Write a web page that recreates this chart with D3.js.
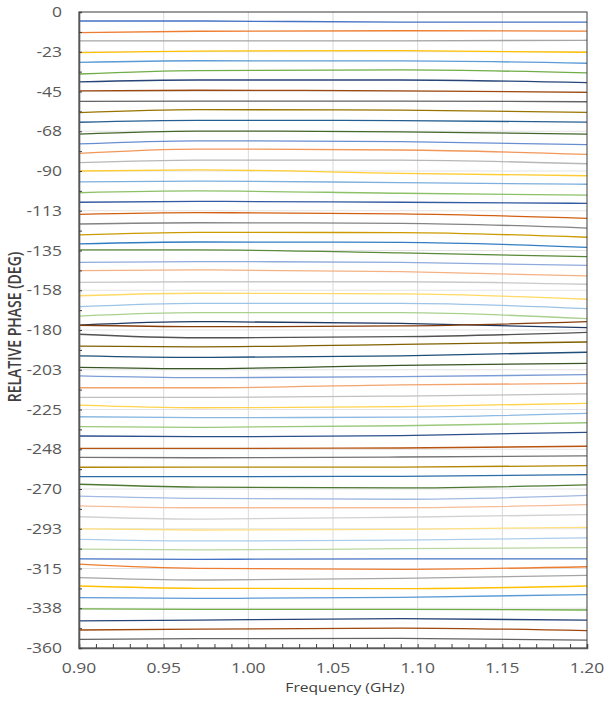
<!DOCTYPE html>
<html>
<head>
<meta charset="utf-8">
<script src="https://cdn.jsdelivr.net/npm/d3@7/dist/d3.min.js"></script>
<style>
  html, body { margin: 0; padding: 0; background: #fff; }
  svg { display: block; }
  text { font-family: "Open Sans", "DejaVu Sans", sans-serif; }
</style>
</head>
<body>
<svg id="chart" width="605" height="702"></svg>
<script>
// ---------------- DATA ----------------
const freqGHz = [0.90, 0.97, 1.09, 1.20];

// relative phase (deg) of each of the 63 states, read at each frequency of freqGHz
const phaseAt090 = [-5.1,-11.7,-16.4,-23.0,-28.5,-35.1,-39.6,-44.6,-50.6,-57.0,-62.4,-69.1,-74.7,-80.0,-85.3,-90.0,-96.2,-102.3,-107.7,-114.5,-120.0,-126.2,-131.3,-134.7,-141.7,-146.4,-153.0,-160.6,-166.8,-172.1,-177.2,-177.3,-182.4,-189.1,-194.6,-201.1,-206.0,-212.7,-218.1,-222.5,-229.1,-234.7,-240.0,-247.0,-252.1,-257.7,-263.0,-267.3,-274.0,-279.5,-285.7,-292.6,-298.5,-304.0,-309.5,-312.5,-320.2,-324.9,-331.5,-337.9,-344.7,-349.8,-355.1];
const phaseAt097 = [-5.1,-10.9,-16.3,-22.1,-27.6,-33.2,-38.5,-44.3,-50.4,-55.3,-61.3,-67.4,-72.9,-77.6,-83.8,-89.4,-95.7,-101.3,-107.2,-113.6,-119.3,-124.7,-130.2,-134.7,-141.3,-146.0,-152.7,-159.2,-164.9,-170.2,-175.3,-178.1,-184.4,-189.5,-195.5,-201.9,-207.0,-212.7,-218.1,-224.0,-229.6,-235.1,-240.4,-247.0,-252.3,-257.6,-263.0,-268.9,-275.3,-280.6,-287.0,-293.2,-299.4,-304.5,-309.8,-314.9,-321.5,-326.2,-331.9,-338.1,-344.2,-349.3,-354.7];
const phaseAt109 = [-5.7,-10.6,-16.3,-21.9,-27.7,-32.8,-38.5,-44.6,-50.4,-55.5,-61.5,-67.8,-73.4,-78.1,-83.9,-91.3,-96.6,-102.6,-107.7,-114.3,-119.6,-124.9,-130.4,-136.4,-141.7,-147.0,-152.7,-159.6,-164.9,-170.2,-176.2,-177.7,-183.8,-188.1,-194.6,-200.0,-206.4,-211.1,-217.4,-223.4,-229.3,-234.2,-239.8,-246.8,-251.9,-257.6,-262.8,-269.4,-275.8,-280.6,-286.0,-292.8,-298.9,-303.8,-309.5,-315.5,-320.6,-326.4,-331.3,-338.1,-343.4,-348.7,-354.5];
const phaseAt120 = [-5.7,-10.8,-16.0,-22.8,-29.0,-34.5,-40.0,-45.5,-50.8,-56.8,-62.3,-69.1,-75.1,-80.6,-85.9,-92.7,-97.5,-103.6,-108.3,-116.8,-122.3,-127.5,-133.2,-138.5,-143.4,-149.4,-154.1,-162.6,-167.9,-173.6,-178.7,-175.3,-181.3,-186.8,-192.6,-198.9,-205.3,-210.2,-216.2,-221.5,-227.2,-232.5,-237.9,-245.8,-251.2,-256.8,-261.9,-267.7,-273.6,-278.9,-284.5,-291.7,-297.7,-303.2,-309.5,-314.0,-318.9,-324.9,-329.8,-338.5,-344.2,-350.2,-355.5];

const xTickValues = [0.90, 0.95, 1.00, 1.05, 1.10, 1.15, 1.20];
const xTickLabels = ["0.90", "0.95", "1.00", "1.05", "1.10", "1.15", "1.20"];
const yTickValues = [0, -22.5, -45, -67.5, -90, -112.5, -135, -157.5, -180, -202.5, -225, -247.5, -270, -292.5, -315, -337.5, -360];
const yTickLabels = ["0", "-23", "-45", "-68", "-90", "-113", "-135", "-158", "-180", "-203", "-225", "-248", "-270", "-293", "-315", "-338", "-360"];
const xTitle = "Frequency (GHz)";
const yTitle = "RELATIVE PHASE (DEG)";

// ---------------- STYLE ----------------
const accents = ["#4472C4", "#ED7D31", "#A5A5A5", "#FFC000", "#5B9BD5", "#70AD47"];
const shadeRules = [[1, 0], [0.6, 0], [0.8, 0.2], [0.8, 0], [0.6, 0.4], [0.5, 0], [0.7, 0.3], [0.7, 0], [0.5, 0.5]];
function seriesColor(i) {
  const base = d3.hsl(accents[i % 6]);
  const r = shadeRules[Math.floor(i / 6) % shadeRules.length];
  base.l = base.l * r[0] + r[1];
  return base.formatHex();
}
const SX = 1.25; // horizontal text stretch of the original picture

const svg = d3.select("#chart");
const plot = { left: 79, right: 587, top: 12, bottom: 648 };

const x = d3.scaleLinear().domain([0.90, 1.20]).range([plot.left, plot.right]);
const y = d3.scaleLinear().domain([0, -360]).range([plot.top, plot.bottom]);

// gridlines
const grid = svg.append("g");
grid.selectAll("line.vg").data(xTickValues.slice(1, -1)).join("line")
  .attr("x1", d => x(d)).attr("x2", d => x(d))
  .attr("y1", plot.top).attr("y2", plot.bottom)
  .attr("stroke", "#d9d9d9").attr("stroke-width", 1);
grid.selectAll("line.hg").data(yTickValues.slice(1, -1)).join("line")
  .attr("x1", plot.left).attr("x2", plot.right)
  .attr("y1", d => y(d)).attr("y2", d => y(d))
  .attr("stroke", "#e3e3e3").attr("stroke-width", 1);

// series
const series = phaseAt090.map((v, i) => freqGHz.map((f, k) => ({
  f, p: [phaseAt090, phaseAt097, phaseAt109, phaseAt120][k][i]
})));
const line = d3.line().x(d => x(d.f)).y(d => y(d.p)).curve(d3.curveMonotoneX);
svg.append("g").selectAll("path").data(series).join("path")
  .attr("d", line)
  .attr("fill", "none")
  .attr("stroke", (d, i) => seriesColor(i))
  .attr("stroke-width", 1.3);

// plot border
svg.append("rect")
  .attr("x", plot.left).attr("y", plot.top)
  .attr("width", plot.right - plot.left).attr("height", plot.bottom - plot.top)
  .attr("fill", "none").attr("stroke", "#3a3a3a").attr("stroke-width", 1);

// axes (inward ticks, no labels from axis generator)
const xAxis = d3.axisTop(x).tickValues(d3.range(0, 31).map(i => 0.90 + i * 0.01)).tickSize(4).tickFormat("");
svg.append("g").attr("transform", `translate(0,${plot.bottom})`).call(xAxis)
  .call(g => g.select(".domain").attr("stroke", "#595959").attr("stroke-width", 1.6))
  .call(g => g.selectAll(".tick line").attr("stroke", "#404040").attr("stroke-width", 1));

const yAxis = d3.axisRight(y).tickValues(d3.range(0, 33).map(i => -i * 11.25)).tickSize(3).tickFormat("");
svg.append("g").attr("transform", `translate(${plot.left},0)`).call(yAxis)
  .call(g => g.select(".domain").attr("stroke", "#595959").attr("stroke-width", 1.6))
  .call(g => g.selectAll(".tick line").attr("stroke", "#404040").attr("stroke-width", 1));

// tick labels
svg.append("g").selectAll("text").data(xTickValues).join("text")
  .attr("transform", d => `translate(${x(d)},673) scale(${SX},1)`)
  .attr("text-anchor", "middle")
  .attr("font-size", 14).attr("fill", "#595959")
  .text((d, i) => xTickLabels[i]);

svg.append("g").selectAll("text").data(yTickValues).join("text")
  .attr("transform", d => `translate(62,${y(d)}) scale(${SX},1)`)
  .attr("text-anchor", "end").attr("dy", "0.36em")
  .attr("font-size", 14).attr("fill", "#595959")
  .text((d, i) => yTickLabels[i]);

// axis titles
svg.append("text")
  .attr("transform", `translate(345,692) scale(${SX},1)`)
  .attr("text-anchor", "middle")
  .attr("font-size", 12.5).attr("fill", "#404040")
  .text(xTitle);

svg.append("text")
  .attr("transform", `translate(21,327) scale(${SX},1) rotate(-90)`)
  .attr("text-anchor", "middle")
  .attr("font-size", 14).attr("font-weight", 600).attr("fill", "#404040")
  .text(yTitle);
</script>
</body>
</html>
